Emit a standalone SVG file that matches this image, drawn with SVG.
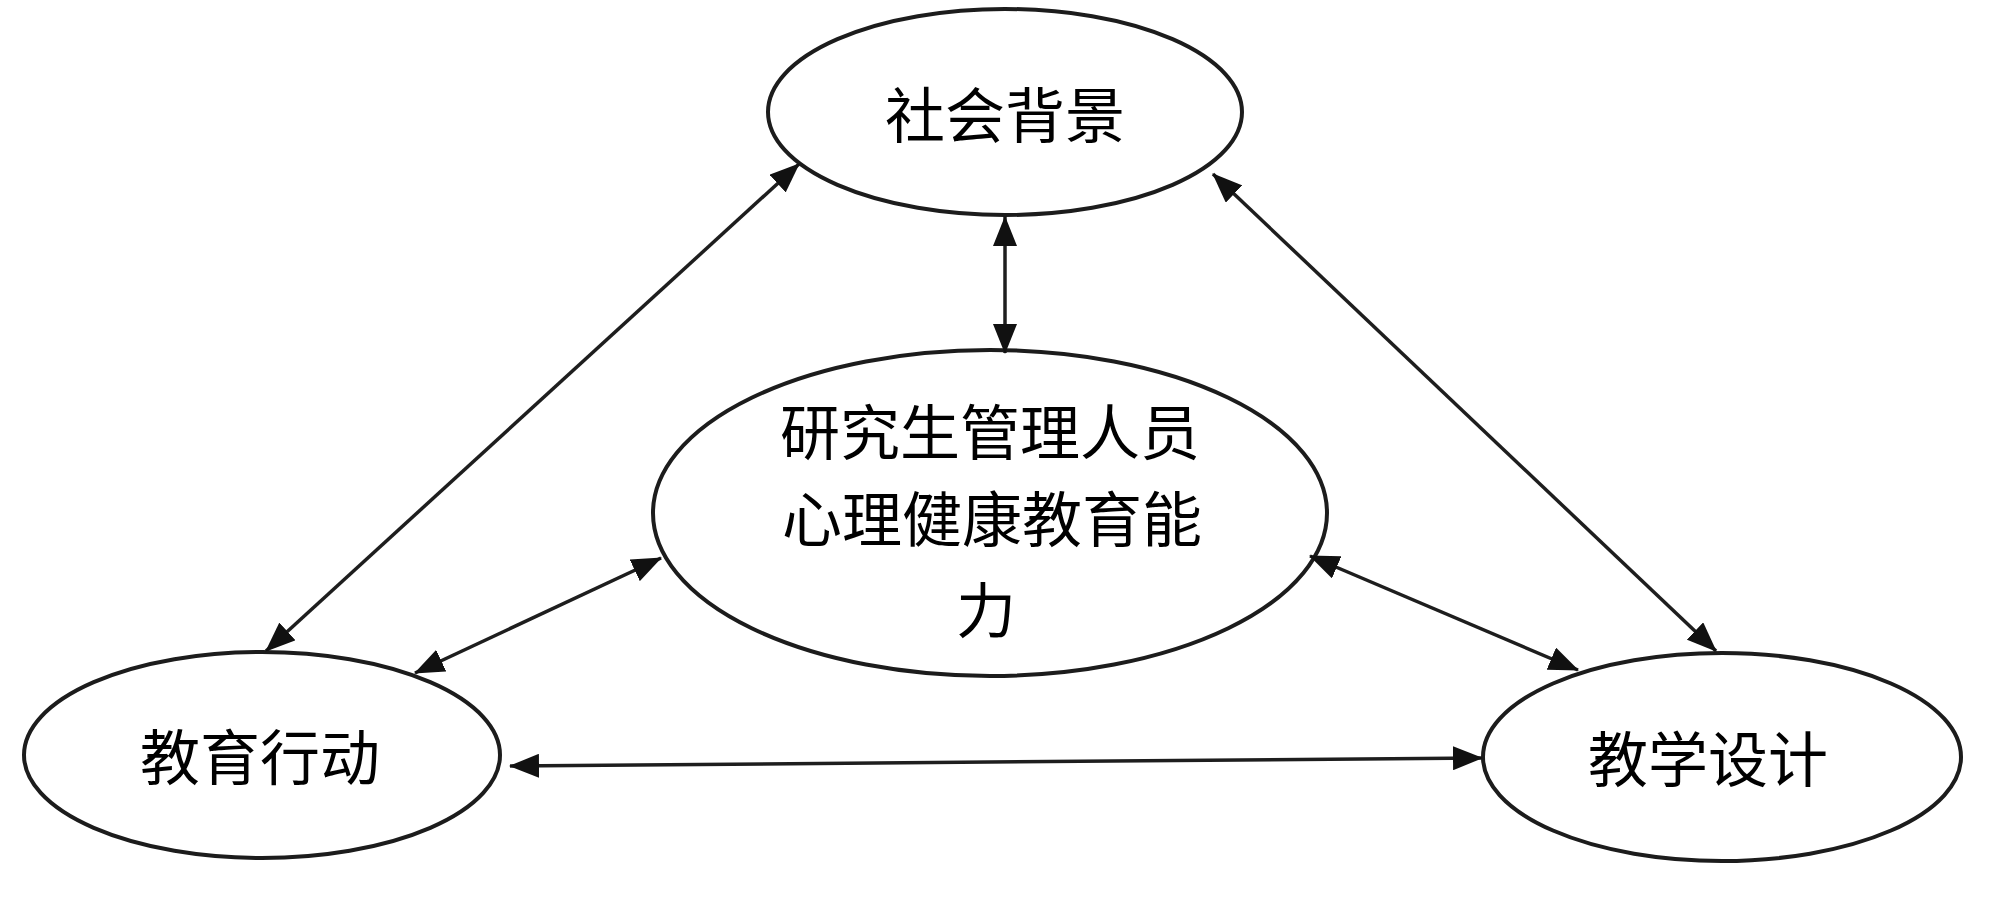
<svg xmlns="http://www.w3.org/2000/svg" width="2000" height="920" viewBox="0 0 2000 920">
  <defs>
    <marker id="arrow" markerUnits="userSpaceOnUse" markerWidth="30" markerHeight="24" viewBox="0 0 30 24" refX="29" refY="12" orient="auto-start-reverse">
      <path d="M0,0 L30,12 L0,24 z" fill="#111"/>
    </marker>
    <style>
      .node { fill: #fff; stroke: #1c1c1c; stroke-width: 4; }
      .label { font-family: "Noto Sans CJK SC", "Noto Sans CJK TC", sans-serif; font-size: 60px; fill: #000; text-anchor: middle; }
      .conn { stroke: #1e1e1e; stroke-width: 3.5; fill: none; marker-start: url(#arrow); marker-end: url(#arrow); }
    </style>
  </defs>
  <rect width="2000" height="920" fill="#fff"/>

  <g id="node-social">
    <ellipse class="node" cx="1005" cy="112" rx="237" ry="103"/>
    <text class="label" x="1005" y="138">社会背景</text>
  </g>

  <g id="node-center">
    <ellipse class="node" cx="990" cy="513" rx="337" ry="163"/>
    <text class="label" x="990" y="455">研究生管理人员</text>
    <text class="label" x="992" y="542">心理健康教育能</text>
    <text class="label" x="986" y="633">力</text>
  </g>

  <g id="node-action">
    <ellipse class="node" cx="262" cy="755" rx="238" ry="103"/>
    <text class="label" x="260" y="780">教育行动</text>
  </g>

  <g id="node-design">
    <ellipse class="node" cx="1722" cy="757" rx="239" ry="104"/>
    <text class="label" x="1708" y="782">教学设计</text>
  </g>

  <g id="connectors">
    <line class="conn" x1="1005" y1="217" x2="1005" y2="353"/>
    <line class="conn" x1="799" y1="164" x2="266" y2="651"/>
    <line class="conn" x1="1213" y1="174" x2="1716" y2="651"/>
    <line class="conn" x1="661" y1="558" x2="415" y2="673"/>
    <line class="conn" x1="1310" y1="556" x2="1578" y2="670"/>
    <line class="conn" x1="510" y1="766" x2="1482" y2="758"/>
  </g>
</svg>
